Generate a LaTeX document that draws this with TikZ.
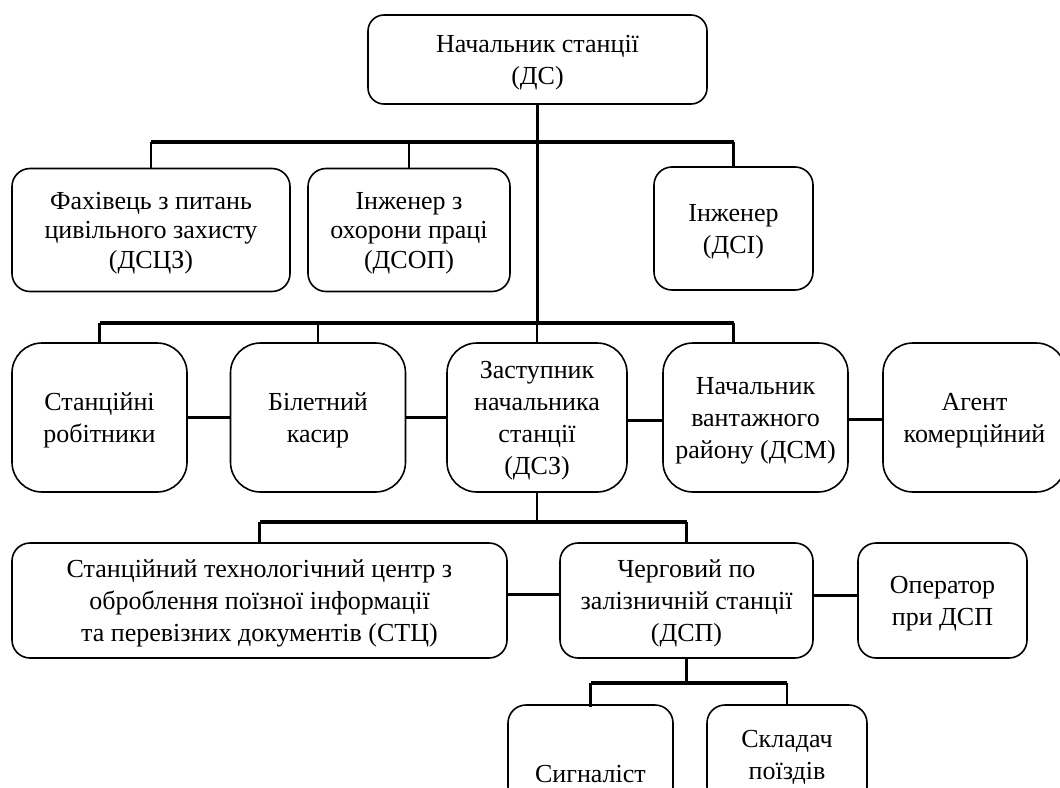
\documentclass[tikz,border=0pt]{standalone}
\usepackage{fontspec}
\setmainfont{Liberation Serif}
\usetikzlibrary{calc}
\begin{document}
\begin{tikzpicture}[x=1pt,y=-1pt,
  box/.style={draw=black,line width=1.6pt,rounded corners=18pt,align=center,
    inner sep=0pt,text depth=0pt,font=\fontsize{26}{32}\selectfont},
  tightbox/.style={box,font=\fontsize{26}{29.5}\selectfont},
  bigbox/.style={box,rounded corners=30pt},
  bus/.style={line width=3.4pt},
  trunk/.style={line width=2.4pt},
  link/.style={line width=2.8pt}]
\useasboundingbox (0,0) rectangle (1060,787);
\clip (0,0) rectangle (1060,787);
% top
\node[box,rounded corners=16pt,minimum width=339pt,minimum height=89pt] (ds) at (537.5,59.5) {Начальник станції\\(ДС)};
% row 2
\node[tightbox,minimum width=278pt,minimum height=123pt] (dscz) at (151,230) {Фахівець з питань\\цивільного захисту\\(ДСЦЗ)};
\node[tightbox,minimum width=202pt,minimum height=123pt] (dsop) at (409,230) {Інженер з\\охорони праці\\(ДСОП)};
\node[box,minimum width=159pt,minimum height=123pt] (dsi) at (733.5,228.5) {Інженер\\(ДСІ)};
% row 3
\node[bigbox,minimum width=175pt,minimum height=149pt] (stanr) at (99.5,417.5) {Станційні\\робітники};
\node[bigbox,minimum width=175pt,minimum height=149pt] (kasyr) at (318,417.5) {Білетний\\касир};
\node[bigbox,minimum width=180pt,minimum height=149pt] (dsz) at (537,417.5) {Заступник\\начальника\\станції\\(ДСЗ)};
\node[bigbox,minimum width=185pt,minimum height=149pt] (dsm) at (755.5,417.5) {Начальник\\вантажного\\району (ДСМ)};
\node[bigbox,minimum width=183pt,minimum height=149pt] (agent) at (974.5,417.5) {Агент\\комерційний};
% row 4
\node[box,minimum width=495pt,minimum height=115pt] (stc) at (259.5,600.5) {Станційний технологічний центр з\\оброблення поїзної інформації\\та перевізних документів (СТЦ)};
\node[box,minimum width=253pt,minimum height=115pt] (dsp) at (686.5,600.5) {Черговий по\\залізничній станції\\(ДСП)};
\node[box,minimum width=169pt,minimum height=115pt] (oper) at (942.5,600.5) {Оператор\\при ДСП};
% row 5
\node[box,minimum width=165pt,minimum height=100pt] (sig) at (590.5,755) {\strut\\Сигналіст};
\node[box,minimum width=160pt,minimum height=100pt] (skl) at (787,755) {Складач\\поїздів};
% connectors
\coordinate (b1) at (0,142);
\coordinate (b2) at (0,323);
\coordinate (b3) at (0,522);
\coordinate (b4) at (0,683);
\draw[trunk] (ds.south) -- (ds.south |- b2);
\draw[bus] (dscz.north |- b1) -- (dsi.north |- b1);
\draw[trunk] (dscz.north |- b1) -- (dscz.north);
\draw[trunk] (dsop.north |- b1) -- (dsop.north);
\draw[trunk] (dsi.north |- b1) -- (dsi.north);
\draw[bus] (stanr.north |- b2) -- (dsi.north |- b2);
\draw[trunk] (stanr.north |- b2) -- (stanr.north);
\draw[trunk] (kasyr.north |- b2) -- (kasyr.north);
\draw[trunk] (dsz.north |- b2) -- (dsz.north);
\draw[trunk] (dsi.north |- b2) -- (dsi.north |- dsm.north);
\draw[link] (stanr.east) -- (kasyr.west);
\draw[link] (kasyr.west -| kasyr.east) -- (dsz.west);
\draw[link] ([yshift=-3pt]dsz.east) -- ([yshift=-3pt]dsm.west);
\draw[link] ([yshift=-2pt]dsm.east) -- ([yshift=-2pt]agent.west);
\draw[trunk] (dsz.south) -- (dsz.south |- b3);
\draw[bus] (stc.north |- b3) -- (dsp.north |- b3);
\draw[trunk] (stc.north |- b3) -- (stc.north);
\draw[trunk] (dsp.north |- b3) -- (dsp.north);
\draw[link] ([yshift=6pt]stc.east) -- ([yshift=6pt]dsp.west);
\draw[link] ([yshift=5pt]dsp.east) -- ([yshift=5pt]oper.west);
\draw[trunk,line width=3.2pt] (dsp.south) -- (dsp.south |- b4);
\draw[bus] (sig.north |- b4) -- (skl.north |- b4);
\draw[trunk,line width=3.2pt] (sig.north |- b4) -- ([yshift=-3pt]sig.north);
\draw[trunk] (skl.north |- b4) -- (skl.north);
\end{tikzpicture}
\end{document}
